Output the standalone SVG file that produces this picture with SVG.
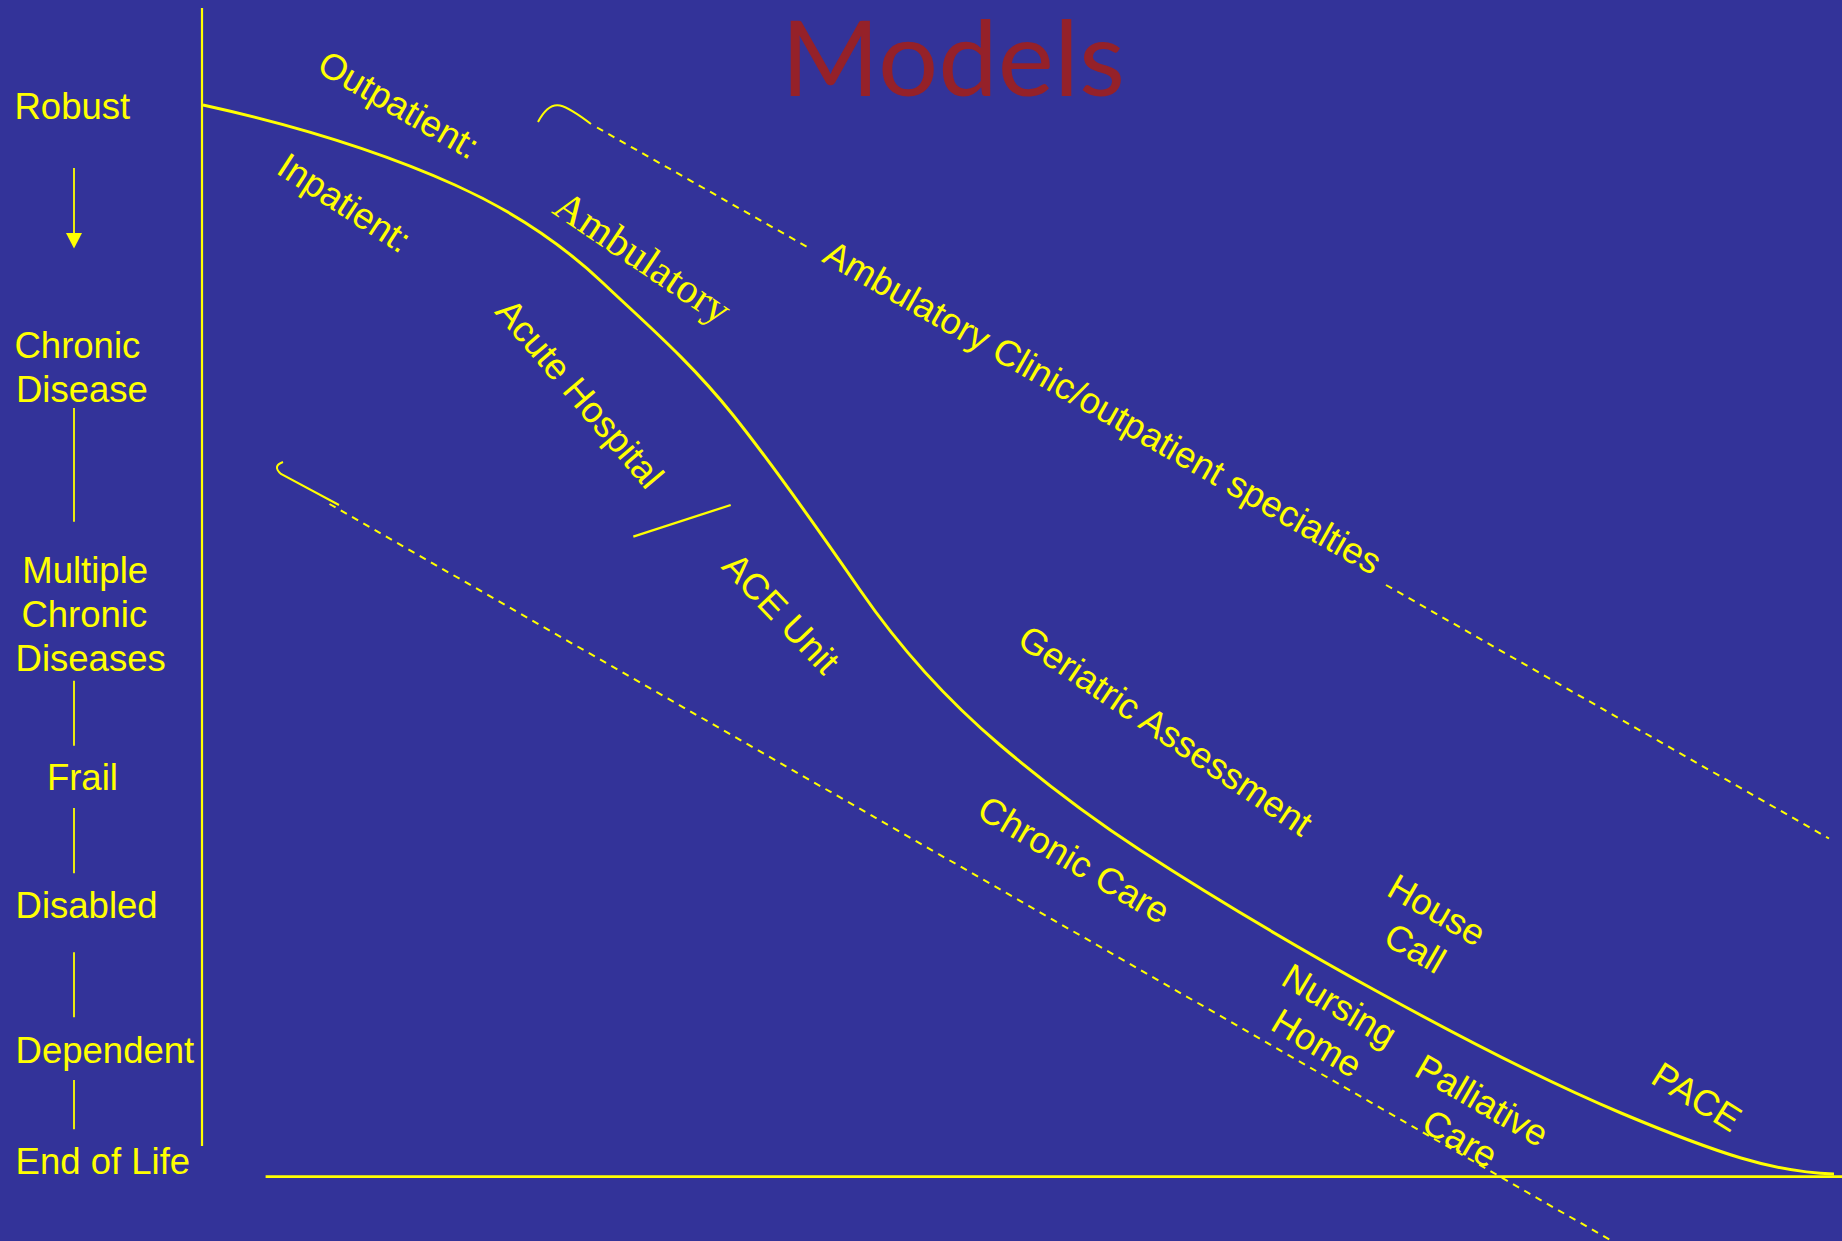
<svg xmlns="http://www.w3.org/2000/svg" width="1842" height="1241" viewBox="0 0 1842 1241">
  <defs>
    <style>
      .lbl { font-family: "Liberation Sans", Arial, Helvetica, sans-serif; font-size: 36.5px; fill: #FFFF00; }
      .rot { font-family: "Liberation Sans", Arial, Helvetica, sans-serif; font-size: 36.5px; fill: #FFFF00; text-anchor: middle; }
      .serif { font-family: "Liberation Serif", "Times New Roman", serif; font-size: 42px; fill: #FFFF00; text-anchor: middle; }
      .title { font-family: Lato, "Open Sans", sans-serif; font-size: 104px; fill: #952129; }
      .ln { stroke: #FFFF00; fill: none; }
      .dash { stroke: #FFFF00; fill: none; stroke-width: 2; stroke-dasharray: 7 6; }
    </style>
  </defs>

  <!-- background -->
  <rect x="0" y="0" width="1842" height="1241" fill="#333399"/>

  <!-- title -->
  <g id="title">
    <text class="title" x="781" y="96" textLength="344" lengthAdjust="spacingAndGlyphs">Models</text>
  </g>

  <!-- stage scale on the left -->
  <g id="stage-robust"><text class="lbl" x="14.5" y="119">Robust</text></g>
  <g id="stage-chronic">
    <text class="lbl" x="14.5" y="358">Chronic</text>
    <text class="lbl" x="16" y="401.7">Disease</text>
  </g>
  <g id="stage-multiple">
    <text class="lbl" x="22.3" y="582.7">Multiple</text>
    <text class="lbl" x="21.4" y="626.7">Chronic</text>
    <text class="lbl" x="15.6" y="670.7">Diseases</text>
  </g>
  <g id="stage-frail"><text class="lbl" x="46.9" y="790">Frail</text></g>
  <g id="stage-disabled"><text class="lbl" x="15.6" y="918.3">Disabled</text></g>
  <g id="stage-dependent"><text class="lbl" x="15.6" y="1062.7">Dependent</text></g>
  <g id="stage-eol"><text class="lbl" x="15.6" y="1174">End of Life</text></g>

  <!-- care-setting labels -->
  <g id="outpatient"><text class="rot" transform="translate(392.5,115.6) rotate(30)">Outpatient:</text></g>
  <g id="inpatient"><text class="rot" transform="translate(337.6,213.4) rotate(33)">Inpatient:</text></g>
  <g id="ambulatory"><text class="serif" transform="translate(635,269) rotate(34)">Ambulatory</text></g>
  <g id="clinic"><text class="rot" transform="translate(1096.5,418.3) rotate(29.7)">Ambulatory Clinic/outpatient specialties</text></g>
  <g id="acute-hospital"><text class="rot" transform="translate(570.2,401.7) rotate(49.5)">Acute Hospital</text></g>
  <g id="ace-unit"><text class="rot" transform="translate(772,622) rotate(46.5)">ACE Unit</text></g>
  <g id="geriatric-assessment"><text class="rot" transform="translate(1158.5,741) rotate(34)">Geriatric Assessment</text></g>
  <g id="chronic-care"><text class="rot" transform="translate(1067.7,870.6) rotate(30.5)">Chronic Care</text></g>
  <g id="house-call">
    <text class="rot" transform="translate(1430.7,920.9) rotate(30)"><tspan x="0" y="0">House</tspan><tspan x="0" y="44">Call</tspan></text>
  </g>
  <g id="nursing-home">
    <text class="rot" transform="translate(1333.1,1016.2) rotate(31)"><tspan x="0" y="0">Nursing</tspan><tspan x="0" y="44">Home</tspan></text>
  </g>
  <g id="palliative-care">
    <text class="rot" transform="translate(1475.8,1111.3) rotate(30)"><tspan x="0" y="0">Palliative</tspan><tspan x="0" y="44">Care</tspan></text>
  </g>
  <g id="pace"><text class="rot" transform="translate(1690.1,1107.6) rotate(32)">PACE</text></g>

  <!-- axes, trajectory and brackets -->
  <g id="connectors">
    <!-- vertical axis and baseline -->
    <line class="ln" x1="202" y1="8" x2="202" y2="1146" stroke-width="2.2"/>
    <line class="ln" x1="265.6" y1="1176.7" x2="1842" y2="1176.7" stroke-width="2.7"/>

    <!-- stage ticks -->
    <line class="ln" x1="74" y1="168" x2="74" y2="236" stroke-width="1.8"/>
    <polygon points="66,233 82,233 74,248.5" fill="#FFFF00"/>
    <line class="ln" x1="74" y1="408" x2="74" y2="521.7" stroke-width="1.8"/>
    <line class="ln" x1="74" y1="680.7" x2="74" y2="745.7" stroke-width="1.8"/>
    <line class="ln" x1="74" y1="808" x2="74" y2="873.3" stroke-width="1.8"/>
    <line class="ln" x1="74" y1="952.3" x2="74" y2="1017.3" stroke-width="1.8"/>
    <line class="ln" x1="74" y1="1080" x2="74" y2="1129.3" stroke-width="1.8"/>

    <!-- health trajectory curve -->
    <path class="ln" stroke-width="3" d="M203,105 C287,123.5 371,147.2 455,185 C504.3,207.2 553.7,236.2 603,283 C646.3,324.1 689.7,360.9 733,415 C775.3,467.9 817.7,528.7 860,590 C906.7,657.7 953.3,705.3 1000,745 C1046.7,784.7 1093.3,819.6 1140,850 C1220,902 1300,949 1380,993 C1460.3,1037.2 1540.7,1079.3 1621,1113 C1661,1129.8 1701,1146 1741,1158 C1772,1167.3 1803,1173.1 1834,1174"/>

    <!-- outpatient bracket -->
    <path class="ln" stroke-width="2" d="M538,122 Q548,103 560,105.5 Q570,108 591,124"/>
    <line class="dash" x1="597" y1="127.5" x2="810" y2="248.5"/>
    <line class="dash" x1="1386" y1="585" x2="1829" y2="838.5"/>

    <!-- inpatient bracket -->
    <path class="ln" stroke-width="2" d="M283,462 Q272,466 281,474 L339,505"/>
    <line class="dash" x1="329.5" y1="504" x2="1612" y2="1241"/>

    <!-- divider between acute hospital and ACE unit -->
    <line class="ln" x1="633.3" y1="536.7" x2="730.7" y2="505" stroke-width="2.3"/>
  </g>
</svg>
